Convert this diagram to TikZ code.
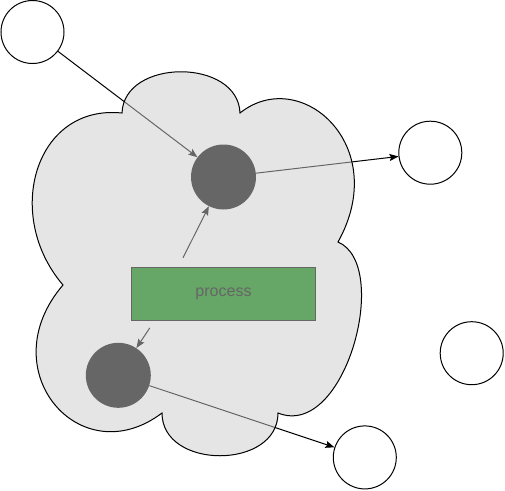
\documentclass[tikz,border=0pt]{standalone}
\usepackage{fontspec}
\setmainfont{Liberation Sans}
\usetikzlibrary{arrows.meta}

\begin{document}
\begin{tikzpicture}[x=1pt, y=-1pt]

\tikzset{%
    ext node/.style={circle, draw=black, line width=1pt, fill=white,
        minimum size=63pt, inner sep=0pt},
    core node/.style={circle, fill=black, minimum size=65pt, inner sep=0pt},
    proc box/.style={rectangle, draw=black, line width=1pt, fill=green!50!black,
        minimum width=184pt, minimum height=53pt, font=\fontsize{16}{19}\selectfont},
    flow/.style={-{Stealth[length=9pt, width=7pt, inset=1.5pt]}, line width=1pt, black},
    cloud body/.style={draw=black, line width=1pt, fill=black!20, fill opacity=0.5}
}

\useasboundingbox (0,0) rectangle (505,490);

\foreach \name/\x/\y in {src/32.5/32, outA/430.3/152.7, outB/364.8/457.4, idle/471.7/353.2} {
    \node[ext node] (\name) at (\x,\y) {};
}
\node[core node] (hubA) at (223.5,177) {};
\node[core node] (hubB) at (118.3,375.3) {};
\node[proc box] (proc) at (223.5,293.8) {process};

\draw[flow] (src) -- (hubA);
\draw[flow] (hubA) -- (outA);
\draw[flow] (hubB) -- (outB);
\draw[flow, shorten <=10pt] ([xshift=-45pt]proc.north) -- (hubA);
\draw[flow, shorten <=8.5pt] ([xshift=-69pt]proc.south) -- (hubB);

% the cloud goes on top, half see-through
\draw[cloud body] (122,113)
    .. controls (124,58) and (238,58) .. (240,113)
    .. controls (300,65) and (392,145) .. (338,242)
    .. controls (392,265) and (345,440) .. (278,413)
    .. controls (278,470) and (162,470) .. (162,413)
    .. controls (80,475) and (-10,370) .. (63,285)
    .. controls (3,215) and (35,104) .. (122,113) -- cycle;

\end{tikzpicture}
\end{document}
